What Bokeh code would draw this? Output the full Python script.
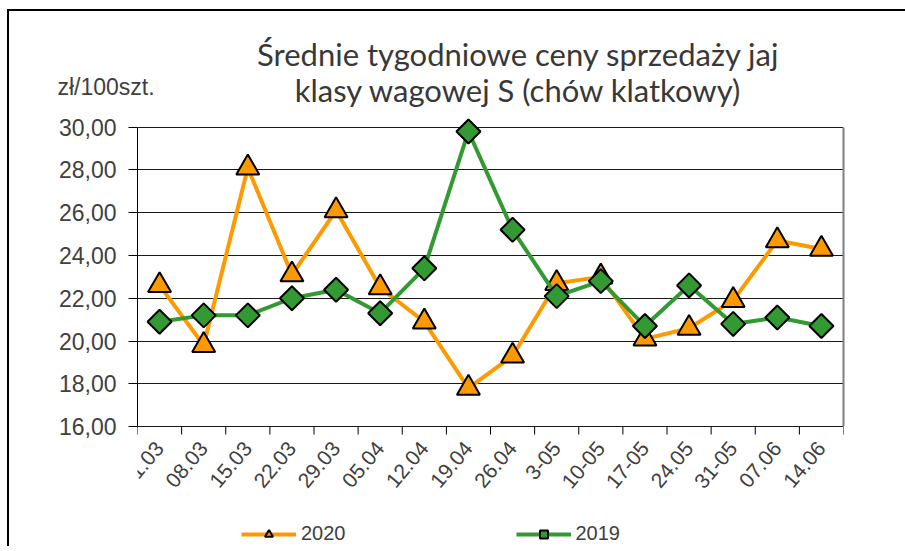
import math
from bokeh.plotting import figure
from bokeh.models import FixedTicker, Label, Legend, LegendItem, Range1d, LinearAxis, ColumnDataSource
from bokeh.core.properties import value
from bokeh.embed import file_html
from bokeh.resources import INLINE

categories = ["01.03", "08.03", "15.03", "22.03", "29.03", "05.04", "12.04", "19.04",
              "26.04", "3-05", "10-05", "17-05", "24.05", "31-05", "07.06", "14.06"]
values_2020 = [22.6, 19.8, 28.1, 23.1, 26.1, 22.5, 20.9, 17.8,
               19.3, 22.7, 23.0, 20.1, 20.6, 21.9, 24.7, 24.3]
values_2019 = [20.9, 21.2, 21.2, 22.0, 22.4, 21.3, 23.4, 29.8,
               25.2, 22.1, 22.8, 20.7, 22.6, 20.8, 21.1, 20.7]
y_ticks = [16, 18, 20, 22, 24, 26, 28, 30]
title_lines = ["Średnie tygodniowe ceny sprzedaży jaj", "klasy wagowej S (chów klatkowy)"]
unit_label = "zł/100szt."

ORANGE = "#FF9900"
GREEN = "#339933"
TXT = "#404040"

n = len(categories)
xs = [i + 0.5 for i in range(n)]
boundaries = list(range(n + 1))
y_min, y_max = 16, 30
px_per_unit = 21.38
y_lo = 10.39          # range extends below the axis so the legend area lies in the frame
label_y = y_min - 18 / px_per_unit

p = figure(frame_width=706, frame_height=430,
           min_border_left=128, min_border_top=105, min_border_bottom=0, min_border_right=63,
           x_range=Range1d(0, n), y_range=Range1d(y_lo, 30.5),
           output_backend="svg", toolbar_location=None, x_axis_location=None, y_axis_location=None)
p.styles = {"border-top": "2px solid #000", "border-left": "2px solid #000",
            "margin-left": "7px", "margin-top": "9px"}
p.outline_line_color = None
p.background_fill_color = "white"
p.border_fill_color = "white"

# y axis
yax = LinearAxis(ticker=FixedTicker(ticks=y_ticks, minor_ticks=[]), bounds=(y_min, y_max))
yax.major_label_overrides = {t: f"{t},00" for t in y_ticks}
yax.axis_line_color = "#000000"
yax.major_tick_line_color = "#000000"
yax.major_tick_out = 9
yax.major_tick_in = 0
yax.minor_tick_line_color = None
yax.major_label_standoff = 12
yax.major_label_text_font = "Liberation Sans"
yax.major_label_text_font_size = "23px"
yax.major_label_text_color = TXT
p.add_layout(yax, "left")

rax = LinearAxis(ticker=FixedTicker(ticks=[]), bounds=(y_min, y_max))
rax.axis_line_color = "#7f7f7f"
rax.axis_line_width = 2
rax.major_tick_line_color = None
rax.minor_tick_line_color = None
rax.major_label_text_font_size = "0px"
p.add_layout(rax, "right")

p.ygrid.ticker = FixedTicker(ticks=y_ticks)
p.ygrid.grid_line_color = "#1a1a1a"
p.ygrid.grid_line_width = 1
p.xgrid.grid_line_color = None

# category axis: tick marks at category boundaries and rotated labels
p.ray(x=boundaries, y=[y_min] * len(boundaries), length=8, length_units="screen",
      angle=-math.pi / 2, line_color="#000000", line_width=1)
lab_src = ColumnDataSource(dict(x=xs, y=[label_y] * n, text=categories))
p.text(x="x", y="y", text="text", source=lab_src, angle=0.87,
       text_align="right", text_baseline="middle",
       text_font=value("Liberation Sans"), text_font_size="21px", text_color=TXT)

# series
l20 = p.line(xs, values_2020, line_color=ORANGE, line_width=4)
s20 = p.scatter(xs, values_2020, marker="triangle", size=23, fill_color=ORANGE,
                line_color="#000000", line_width=2)
l19 = p.line(xs, values_2019, line_color=GREEN, line_width=4)
s19 = p.scatter(xs, values_2019, marker="square", angle=math.pi / 4, size=17, fill_color=GREEN,
                line_color="#000000", line_width=2)

legend = Legend(items=[LegendItem(label="2020", renderers=[l20, s20]),
                       LegendItem(label="2019", renderers=[l19, s19])],
                orientation="horizontal", location=(104, 1),
                glyph_width=55, glyph_height=20, label_standoff=5, spacing=170,
                padding=4, margin=0, border_line_color=None, background_fill_alpha=0,
                label_text_font="Liberation Sans", label_text_font_size="20px",
                label_text_color=TXT)
p.add_layout(legend, "center")

# title and unit
for txt, yb in zip(title_lines, [40, 76]):
    p.add_layout(Label(x=507, y=yb, x_units="canvas", y_units="canvas", text=txt,
                       text_align="center", text_baseline="alphabetic",
                       text_font="Lato", text_font_size="31px", text_color="#383838"),
                 "above")
p.add_layout(Label(x=46, y=73, x_units="canvas", y_units="canvas", text=unit_label,
                   text_align="left", text_baseline="alphabetic",
                   text_font="Liberation Sans", text_font_size="23px", text_color=TXT),
             "above")

open("out.html", "w").write(file_html(p, INLINE))
